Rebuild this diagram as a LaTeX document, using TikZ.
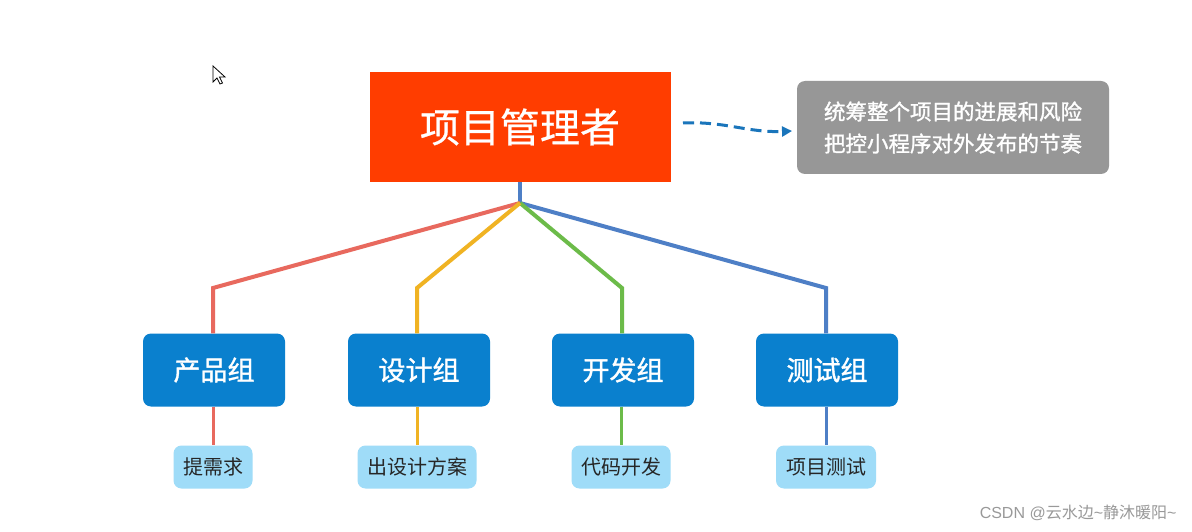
\documentclass[tikz,border=0pt]{standalone}
\usepackage{fontspec}
\setmainfont{Noto Sans CJK SC}
\newfontfamily\cjkmed[FakeBold=1.3]{Noto Sans CJK SC}
\newfontfamily\cjksemi[FakeBold=0.6]{Noto Sans CJK SC}
\newfontfamily\wmfont{Liberation Sans}
\usetikzlibrary{arrows.meta,positioning}
\definecolor{pmred}{HTML}{FF3D00}
\definecolor{grpblue}{HTML}{0A80CE}
\definecolor{tasksky}{HTML}{9FDCF8}
\definecolor{notegray}{HTML}{979797}
\definecolor{lnred}{HTML}{E8695E}
\definecolor{lnyellow}{HTML}{F0B323}
\definecolor{lngreen}{HTML}{6CBB49}
\definecolor{lnblue}{HTML}{4E7FC6}
\definecolor{arrblue}{HTML}{1A75BB}
\tikzset{
  groupbox/.style={fill=grpblue, rounded corners=8pt, minimum width=142pt, minimum height=73pt,
    inner sep=0pt, text=white, font=\fontsize{27}{30}\cjkmed},
  taskbox/.style={fill=tasksky, rounded corners=8pt, minimum height=43pt, inner sep=0pt,
    text=black!85, font=\fontsize{20}{22}\selectfont},
  branch/.style={line width=4pt, line join=miter}
}

\begin{document}
\begin{tikzpicture}[x=1pt, y=-1pt]
    \useasboundingbox[fill=white] (0,0) rectangle (1192,532);

    % 鼠标指针
    \draw [fill=white, line width=0.8pt, line join=miter]
        (213,66) -- (213,82) -- (217,78) -- (220,84) -- (222.5,83) -- (219.5,77) -- (225,77) -- cycle;

    % 项目管理者
    \node (pm) [fill=pmred, minimum width=301pt, minimum height=110pt, inner sep=0pt,
        text=white, font=\fontsize{40}{44}\cjksemi] at (520,127) {项目管理者};

    % 说明框
    \node (note) [fill=notegray, rounded corners=8pt, minimum width=312pt, minimum height=93pt,
        inner sep=0pt, text=white, align=center, font=\fontsize{21.5}{32}\cjkmed]
        at (953,127.5) {统筹整个项目的进展和风险\\把控小程序对外发布的节奏};

    \coordinate (arrS) at (683,123);
    \coordinate (arrE) at (792,131);
    \draw [arrblue, line width=3pt, dash pattern=on 11pt off 6pt, -{Triangle[length=10pt, width=10pt]}]
        (arrS) .. controls (725,121) and (748,133) .. (arrE);

    % 各组
    \node (g1) [groupbox] at (214,370) {产品组};
    \node (g2) [groupbox] at (419,370) {设计组};
    \node (g3) [groupbox] at (623,370) {开发组};
    \node (g4) [groupbox] at (827,370) {测试组};

    % 任务
    \node (t1) [taskbox, minimum width=79pt]  at (213,467) {提需求};
    \node (t2) [taskbox, minimum width=119pt] at (417,467) {出设计方案};
    \node (t3) [taskbox, minimum width=99pt]  at (621,467) {代码开发};
    \node (t4) [taskbox, minimum width=100pt] at (826,467) {项目测试};

    % 连线
    \coordinate (hub) at (520,203);
    \coordinate (b1) at (213,288);
    \coordinate (b2) at (417,288);
    \coordinate (b3) at (622,288);
    \coordinate (b4) at (826,288);

    \draw [branch, lnblue] (pm.south) -- (hub);
    \draw [branch, lnblue] (hub) -- (b4) -- (b4 |- g4.north);
    \draw [branch, lngreen] (hub) -- (b3) -- (b3 |- g3.north);
    \draw [branch, lnred] (hub) -- (b1) -- (b1 |- g1.north);
    \draw [branch, lnyellow] (hub) -- (b2) -- (b2 |- g2.north);

    \draw [lnred, line width=3pt] (g1.south -| t1.north) -- (t1.north);
    \draw [lnyellow, line width=3pt] (g2.south -| t2.north) -- (t2.north);
    \draw [lngreen, line width=3pt] (g3.south -| t3.north) -- (t3.north);
    \draw [lnblue, line width=3pt] (g4.south -| t4.north) -- (t4.north);

    % 水印
    \node (wm) [anchor=east, text=black!40, font=\fontsize{16}{18}\selectfont\wmfont]
        at (1180,513) {CSDN @{\normalfont 云水边}\textasciitilde{\normalfont 静沐暖阳}\textasciitilde};
\end{tikzpicture}
\end{document}
